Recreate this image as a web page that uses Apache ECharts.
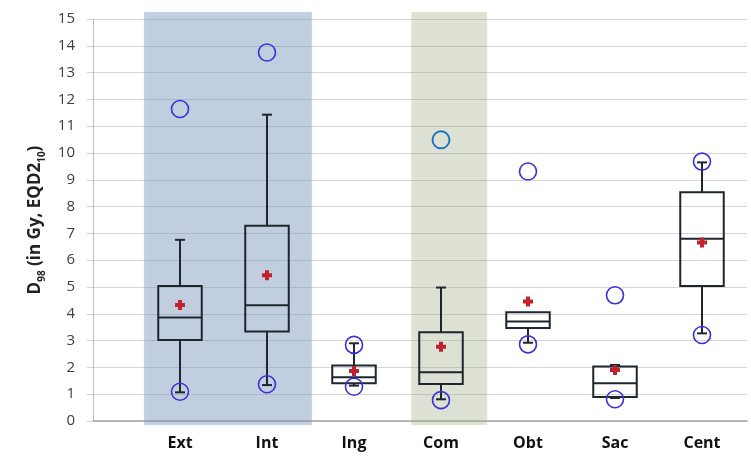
<!DOCTYPE html>
<html>
<head>
<meta charset="utf-8">
<script src="https://cdn.jsdelivr.net/npm/echarts@6/dist/echarts.min.js"></script>
<style>
  html, body { margin: 0; padding: 0; background: #fff; }
  #chart { width: 751px; height: 461px; }
</style>
</head>
<body>
<div id="chart"></div>
<script>
// values (D98 in Gy)
const categories = ['Ext', 'Int', 'Ing', 'Com', 'Obt', 'Sac', 'Cent'];
const mins    = [1.07, 1.34, 1.32, 0.81, 2.92, 0.86, 3.27];
const q1s     = [3.02, 3.34, 1.41, 1.38, 3.47, 0.90, 5.04];
const medians = [3.86, 4.32, 1.63, 1.82, 3.71, 1.41, 6.80];
const q3s     = [5.04, 7.29, 2.07, 3.31, 4.06, 2.03, 8.54];
const maxs    = [6.76, 11.43, 2.90, 4.98, 4.06, 2.09, 9.65];
const means   = [4.33, 5.44, 1.87, 2.77, 4.46, 1.90, 6.66];
const highPoints = [11.64, 13.75, 2.84, 10.49, 9.31, 4.69, 9.68];
const lowPoints  = [1.09, 1.37, 1.28, 0.78, 2.86, 0.81, 3.21];
const yTicks = [0, 15, 1];
// shaded columns, in units of category slots (slot 1 = Ext)
const bands = [[0.585, 2.51], [3.65, 4.52]];
const bandColors = ['rgba(122,154,192,0.43)', 'rgba(165,180,140,0.34)'];

const chart = echarts.init(document.getElementById('chart'));

const boxData = categories.map((c, i) => [i, mins[i], q1s[i], medians[i], q3s[i], maxs[i]]);
const stroke = '#1e2630';

function renderBox(params, api) {
  const x = api.value(0);
  const half = api.size([1, 0])[0] * 0.25;
  const pMin = api.coord([x, api.value(1)]);
  const pQ1 = api.coord([x, api.value(2)]);
  const pMed = api.coord([x, api.value(3)]);
  const pQ3 = api.coord([x, api.value(4)]);
  const pMax = api.coord([x, api.value(5)]);
  const cx = pMed[0];
  const cap = 5;
  const st = { stroke: stroke, lineWidth: 2, fill: null };
  const children = [
    { type: 'line', shape: { x1: cx, y1: pQ1[1], x2: cx, y2: pMin[1] }, style: st },
    { type: 'line', shape: { x1: cx, y1: pQ3[1], x2: cx, y2: pMax[1] }, style: st },
    { type: 'rect', shape: { x: cx - half, y: pQ3[1], width: half * 2, height: pQ1[1] - pQ3[1] }, style: st },
    { type: 'line', shape: { x1: cx - half, y1: pMed[1], x2: cx + half, y2: pMed[1] }, style: st },
    { type: 'line', shape: { x1: cx - cap, y1: pMin[1], x2: cx + cap, y2: pMin[1] }, style: st }
  ];
  if (api.value(5) > api.value(4)) {
    children.push({ type: 'line', shape: { x1: cx - cap, y1: pMax[1], x2: cx + cap, y2: pMax[1] }, style: st });
  }
  return { type: 'group', children: children };
}

function renderBand(params, api) {
  const p0 = api.coord([api.value(0), 0]);
  const p1 = api.coord([api.value(1), 1]);
  return {
    type: 'rect',
    shape: { x: p0[0], y: p1[1], width: p1[0] - p0[0], height: p0[1] - p1[1] },
    style: { fill: bandColors[params.dataIndex], shadowBlur: 4, shadowColor: 'rgba(0,0,0,0.08)' }
  };
}

const plus = 'path://M3,0H7V3H10V7H7V10H3V7H0V3H3Z';

const option = {
  animation: false,
  grid: [
    { left: 93, right: 4, top: 12, bottom: 36 },
    { left: 93, right: 4, top: 19, bottom: 40 },
    { left: 136.5, right: 5.5, top: 19, bottom: 40 }
  ],
  xAxis: [
    { gridIndex: 0, type: 'value', min: 0, max: 7.5, show: false },
    {
      gridIndex: 1, type: 'value', min: 0, max: 7.5,
      axisLine: { show: true, lineStyle: { color: '#a6a6a6', width: 1.5 } },
      axisTick: { show: false }, axisLabel: { show: false }, splitLine: { show: false }
    },
    {
      gridIndex: 2, type: 'category', data: categories,
      axisLine: { show: false }, axisTick: { show: false },
      axisLabel: { color: '#111', fontSize: 16, fontWeight: 'bold', fontFamily: 'Open Sans', margin: 14 }
    }
  ],
  yAxis: [
    { gridIndex: 0, type: 'value', min: 0, max: 1, show: false },
    {
      gridIndex: 1, type: 'value', min: yTicks[0], max: yTicks[1], interval: yTicks[2],
      axisLine: { show: true, lineStyle: { color: '#bfbfbf' } },
      axisTick: { show: true, length: 6, lineStyle: { color: '#d0d0d0' } },
      axisLabel: { color: '#404040', fontSize: 15, fontFamily: 'Open Sans', margin: 18 },
      splitLine: { show: true, lineStyle: { color: '#d6d6d6' } },
      name: '{b|D}{s|98}{b| (in Gy, EQD2}{s|10}{b|)}',
      nameLocation: 'middle', nameGap: 48,
      nameTextStyle: {
        rich: {
          b: { fontSize: 17, fontWeight: 'bold', fontFamily: 'Open Sans', color: '#222', lineHeight: 24, verticalAlign: 'bottom' },
          s: { fontSize: 10, fontWeight: 'bold', fontFamily: 'Open Sans', color: '#222', lineHeight: 24, verticalAlign: 'bottom', padding: [0, 0, -3, 0] }
        }
      }
    },
    { gridIndex: 2, type: 'value', min: 0, max: 15, show: false }
  ],
  series: [
    {
      type: 'custom', xAxisIndex: 0, yAxisIndex: 0, data: bands, silent: true,
      encode: { x: [0, 1] }, renderItem: renderBand, z: 1
    },
    {
      type: 'custom', xAxisIndex: 2, yAxisIndex: 2, data: boxData,
      encode: { x: 0, y: [1, 2, 3, 4, 5] }, renderItem: renderBox, z: 3
    },
    {
      type: 'scatter', xAxisIndex: 2, yAxisIndex: 2, symbol: plus, symbolSize: 10,
      itemStyle: { color: '#c0232f', opacity: 1 }, z: 5,
      data: categories.map((c, i) => [c, means[i]])
    },
    {
      type: 'scatter', xAxisIndex: 2, yAxisIndex: 2, symbol: 'circle', symbolSize: 17,
      itemStyle: { color: 'rgba(0,0,0,0)', borderColor: '#3b2fd6', borderWidth: 1.6, opacity: 1 }, z: 6,
      data: categories.map((c, i) => {
        const d = { value: [c, highPoints[i]] };
        if (c === 'Com') d.itemStyle = { borderColor: '#1f74c0', borderWidth: 2 };
        return d;
      }).concat(categories.map((c, i) => [c, lowPoints[i]]))
    }
  ]
};

chart.setOption(option);
</script>
</body>
</html>
